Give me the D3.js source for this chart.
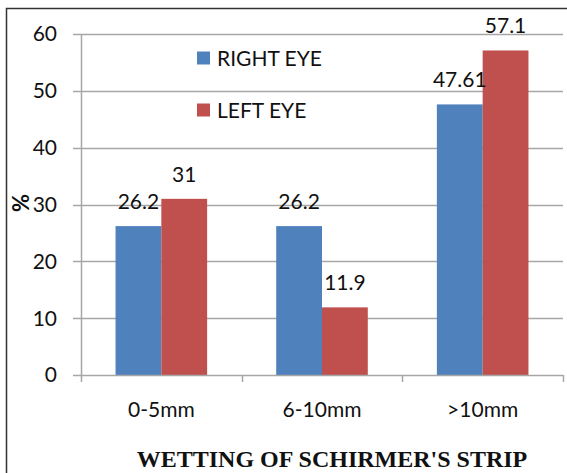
<!DOCTYPE html>
<html>
<head>
<meta charset="utf-8">
<script src="https://cdn.jsdelivr.net/npm/d3@7"></script>
<style>
  html, body { margin: 0; padding: 0; background: #fff; }
  svg { display: block; }
</style>
</head>
<body>
<svg id="chart" width="567" height="473"></svg>
<script>
// Schirmer strip wetting, percentage of eyes per category
const categories = ["0-5mm", "6-10mm", ">10mm"];
const seriesNames = ["RIGHT EYE", "LEFT EYE"];
const rightEye = [26.2, 26.2, 47.61];
const leftEye = [31, 11.9, 57.1];
const rightLabels = ["26.2", "26.2", "47.61"];
const leftLabels = ["31", "11.9", "57.1"];
const yTicks = [0, 10, 20, 30, 40, 50, 60];
const colors = ["#4F81BD", "#C0504D"];

const svg = d3.select("#chart");
const font = "Lato, 'Open Sans', sans-serif";
const gridColor = "#a6a6a6";

// outer frame (only left and top edges fall inside the view)
svg.append("rect")
  .attr("x", 6.5).attr("y", 8.5)
  .attr("width", 600).attr("height", 500)
  .attr("fill", "none").attr("stroke", "#333").attr("stroke-width", 1.5);

const plot = { left: 81, right: 563, top: 34, bottom: 375 };

const x = d3.scaleBand()
  .domain(categories)
  .range([plot.left, plot.right])
  .paddingInner(0.43)
  .paddingOuter(0.215);

const xs = d3.scaleBand()
  .domain(seriesNames)
  .range([0, x.bandwidth()]);

const y = d3.scaleLinear()
  .domain([0, 60])
  .range([plot.bottom, plot.top]);

// horizontal gridlines with left tick stubs
svg.append("g")
  .selectAll("line")
  .data(yTicks.filter(d => d > 0))
  .join("line")
  .attr("x1", plot.left - 8).attr("x2", plot.right)
  .attr("y1", d => Math.round(y(d)) + 0.5).attr("y2", d => Math.round(y(d)) + 0.5)
  .attr("stroke", gridColor).attr("stroke-width", 1.5);

// y tick labels
svg.append("g")
  .selectAll("text")
  .data(yTicks)
  .join("text")
  .attr("x", 57)
  .attr("y", d => y(d))
  .attr("dy", "0.35em")
  .attr("text-anchor", "end")
  .attr("font-family", font)
  .attr("font-size", 21)
  .attr("fill", "#111")
  .text(d => d);

// bars
const series = [rightEye, leftEye];
const labels = [rightLabels, leftLabels];
const groups = svg.append("g");
series.forEach((vals, si) => {
  groups.append("g")
    .selectAll("rect")
    .data(vals)
    .join("rect")
    .attr("x", (d, i) => x(categories[i]) + xs(seriesNames[si]))
    .attr("y", d => y(d))
    .attr("width", xs.bandwidth())
    .attr("height", d => y(0) - y(d))
    .attr("fill", colors[si]);
});

// value labels above bars
series.forEach((vals, si) => {
  svg.append("g")
    .selectAll("text")
    .data(vals)
    .join("text")
    .attr("x", (d, i) => x(categories[i]) + xs(seriesNames[si]) + xs.bandwidth() / 2)
    .attr("y", d => y(d) - 17)
    .attr("text-anchor", "middle")
    .attr("font-family", font)
    .attr("font-size", 21)
    .attr("fill", "#111")
    .text((d, i) => labels[si][i]);
});

// y axis line
svg.append("line")
  .attr("x1", plot.left + 0.5).attr("x2", plot.left + 0.5)
  .attr("y1", plot.top).attr("y2", plot.bottom + 7)
  .attr("stroke", gridColor).attr("stroke-width", 1.5);

// x axis line and category separators
svg.append("line")
  .attr("x1", plot.left - 8).attr("x2", plot.right)
  .attr("y1", plot.bottom + 0.5).attr("y2", plot.bottom + 0.5)
  .attr("stroke", gridColor).attr("stroke-width", 1.5);

const step = x.step();
const boundaries = categories.map(c => x(c) - x.paddingOuter() * step + 0).map((v, i) => plot.left + i * step);
boundaries.push(plot.right);
svg.append("g")
  .selectAll("line")
  .data(boundaries.slice(1))
  .join("line")
  .attr("x1", d => Math.round(d) + 0.5).attr("x2", d => Math.round(d) + 0.5)
  .attr("y1", plot.bottom).attr("y2", plot.bottom + 7)
  .attr("stroke", gridColor).attr("stroke-width", 1.5);

// category labels
svg.append("g")
  .selectAll("text")
  .data(categories)
  .join("text")
  .attr("x", d => x(d) + x.bandwidth() / 2)
  .attr("y", 417)
  .attr("text-anchor", "middle")
  .attr("font-family", font)
  .attr("font-size", 21)
  .attr("fill", "#111")
  .text(d => d);

// legend
const legend = svg.append("g");
const legendRows = [58, 110];
seriesNames.forEach((name, i) => {
  legend.append("rect")
    .attr("x", 197).attr("y", legendRows[i] - 6.5)
    .attr("width", 13).attr("height", 13)
    .attr("fill", colors[i]);
  legend.append("text")
    .attr("x", 217).attr("y", legendRows[i])
    .attr("dy", "0.36em")
    .attr("font-family", font)
    .attr("font-size", 21)
    .attr("fill", "#111")
    .text(name);
});

// y axis title
svg.append("text")
  .attr("transform", "translate(29,203) rotate(-90)")
  .attr("text-anchor", "middle")
  .attr("font-family", font)
  .attr("font-weight", "bold")
  .attr("font-size", 22)
  .attr("fill", "#111")
  .text("%");

// x axis title
svg.append("text")
  .attr("x", 332).attr("y", 467)
  .attr("text-anchor", "middle")
  .attr("font-family", "'Liberation Serif', 'Times New Roman', serif")
  .attr("font-weight", "bold")
  .attr("font-size", 24)
  .attr("fill", "#111")
  .text("WETTING OF SCHIRMER'S STRIP");
</script>
</body>
</html>
